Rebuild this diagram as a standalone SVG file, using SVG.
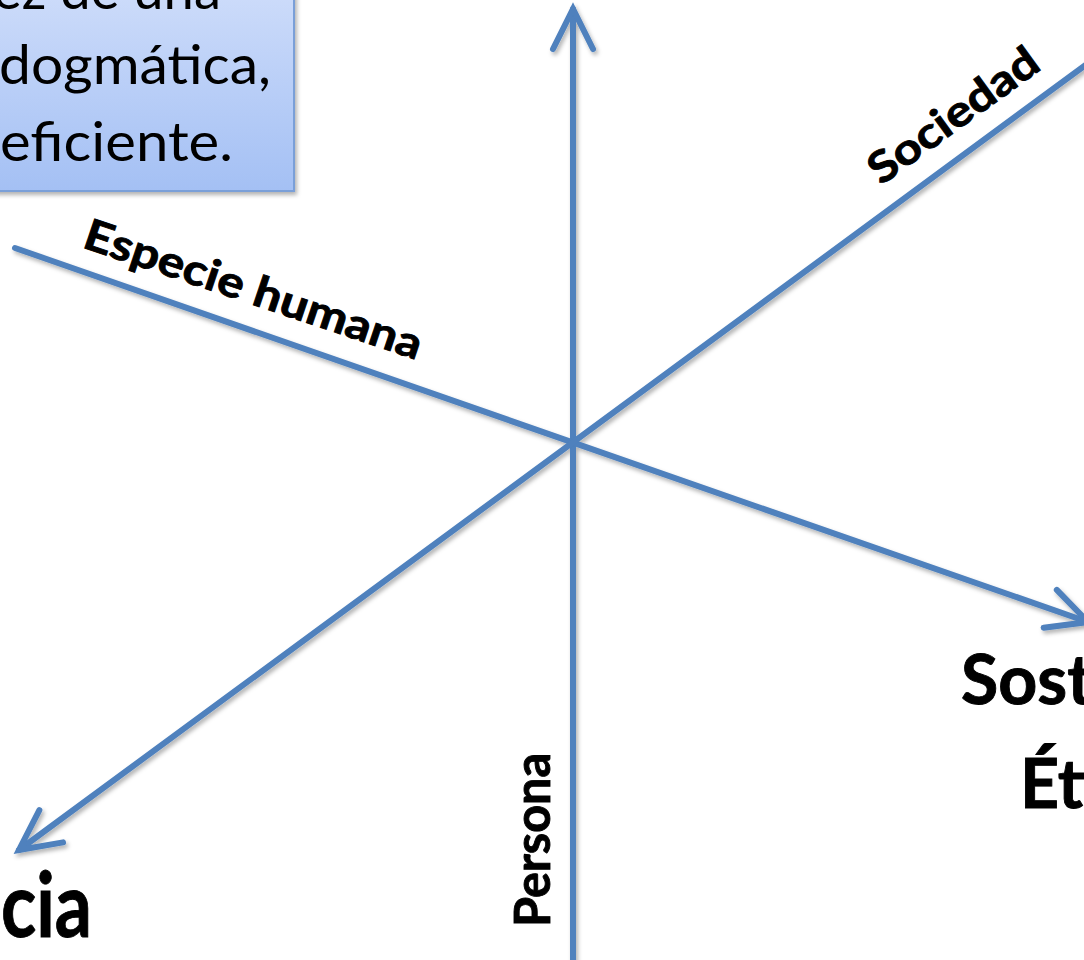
<svg xmlns="http://www.w3.org/2000/svg" width="1084" height="960" viewBox="0 0 1084 960">
  <defs>
    <linearGradient id="boxGrad" x1="0" y1="0" x2="0" y2="1">
      <stop offset="0" stop-color="#d3e0fb"/>
      <stop offset="1" stop-color="#a4c0f4"/>
    </linearGradient>
    <filter id="shadow" x="-10%" y="-10%" width="130%" height="130%">
      <feDropShadow dx="2" dy="3" stdDeviation="2" flood-color="#000" flood-opacity="0.3"/>
    </filter>
    <marker id="arrow" markerUnits="userSpaceOnUse" orient="auto" refX="0" refY="0" markerWidth="60" markerHeight="60" overflow="visible">
      <path d="M-40,-20 L0,0 L-40,20" fill="none" stroke="#4F81BD" stroke-width="6" stroke-linecap="round" stroke-linejoin="miter"/>
    </marker>
    <style>
      .axis { fill: none; stroke: #4F81BD; stroke-width: 6; stroke-linecap: round; marker-end: url(#arrow); }
      .lbl { font-family: Lato, "Liberation Sans", sans-serif; font-weight: bold; fill: #000; stroke: #000; stroke-width: 0.9; }
      .box { font-family: Lato, "Liberation Sans", sans-serif; font-weight: normal; fill: #000; font-size: 55px; }
    </style>
  </defs>
  <rect width="1084" height="960" fill="#fff"/>

  <g id="note-box">
    <rect x="-20" y="-40" width="314" height="231" fill="url(#boxGrad)" stroke="#7a9fd8" stroke-width="2" filter="url(#shadow)"/>
    <text class="box" x="221" y="9" text-anchor="end" textLength="228" lengthAdjust="spacingAndGlyphs">ez de una</text>
    <text class="box" x="271" y="84" text-anchor="end" textLength="272" lengthAdjust="spacingAndGlyphs">dogmática,</text>
    <text class="box" x="233" y="161" text-anchor="end" textLength="233" lengthAdjust="spacingAndGlyphs">eficiente.</text>
  </g>

  <g id="connectors" filter="url(#shadow)">
    <path id="axis-persona" class="axis" d="M573,960 L573,9"/>
    <path id="axis-especie" class="axis" d="M15,248 L1088,622"/>
    <path id="axis-sociedad" class="axis" d="M1110,47 L19,850"/>
  </g>

  <g id="label-especie">
    <text class="lbl" font-size="43" transform="translate(81,247) rotate(18.6)" textLength="354" lengthAdjust="spacingAndGlyphs">Especie humana</text>
  </g>
  <g id="label-sociedad">
    <text class="lbl" font-size="43" transform="translate(881,186) rotate(-36)" textLength="200" lengthAdjust="spacingAndGlyphs">Sociedad</text>
  </g>
  <g id="label-persona">
    <text class="lbl" font-size="50" transform="translate(550,927) rotate(-90)" textLength="174" lengthAdjust="spacingAndGlyphs">Persona</text>
  </g>
  <g id="label-sost">
    <text class="lbl" font-size="68" x="961" y="704">Sost</text>
    <text class="lbl" font-size="68" x="1020" y="808">Éti</text>
  </g>
  <g id="label-cia">
    <text class="lbl" font-size="90" x="1" y="937" textLength="91" lengthAdjust="spacingAndGlyphs">cia</text>
  </g>
</svg>
